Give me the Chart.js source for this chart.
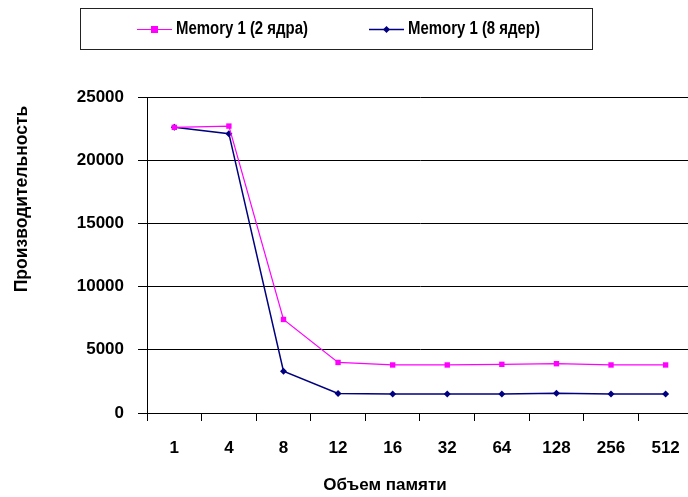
<!DOCTYPE html>
<html><head><meta charset="utf-8">
<script src="https://cdn.jsdelivr.net/npm/chart.js@4/dist/chart.umd.min.js"></script>
<style>html,body{margin:0;padding:0;overflow:hidden;background:#fff}#wrap{width:697px;height:497px}</style>
</head><body><div id="wrap"><canvas id="c" width="697" height="497"></canvas></div>
<script>
const categories = ['1','4','8','12','16','32','64','128','256','512'];
const series2 = [22600,22700,7400,4000,3800,3800,3850,3900,3800,3800];
const series8 = [22600,22100,3300,1550,1500,1500,1500,1560,1500,1500];
const seriesNames = ['Memory 1 (2 ядра)','Memory 1 (8 ядер)'];
const yTicks = [0,5000,10000,15000,20000,25000];
const xTitle = 'Объем памяти';
const yTitle = 'Производительность';

const FONT = '"Liberation Sans", Arial, sans-serif';

function squeezedText(ctx, text, x, y, sx) {
  ctx.save();
  ctx.translate(x, y);
  ctx.scale(sx, 1);
  ctx.fillText(text, 0, 0);
  ctx.restore();
}

const legendAndTitles = {
  id:'legendAndTitles',
  afterDraw(chart){
    const ctx = chart.ctx;
    ctx.save();
    // legend box
    ctx.strokeStyle = '#222'; ctx.lineWidth = 1;
    ctx.strokeRect(80.5, 8.5, 512, 41);
    const items = [{x:137, ds:0},{x:369, ds:1}];
    ctx.font = 'bold 18px ' + FONT;
    ctx.textBaseline = 'middle';
    items.forEach(it=>{
      const ds = chart.data.datasets[it.ds];
      const y = 29.5;
      ctx.strokeStyle = ds.borderColor; ctx.lineWidth = ds.borderWidth;
      ctx.beginPath(); ctx.moveTo(it.x, y); ctx.lineTo(it.x+35, y); ctx.stroke();
      ctx.fillStyle = ds.pointBackgroundColor;
      if (ds.pointStyle === 'rect') {
        ctx.fillRect(it.x+17.5-3.5, y-3.5, 7, 7);
      } else {
        ctx.beginPath(); ctx.moveTo(it.x+17.5, y-3.5); ctx.lineTo(it.x+21, y); ctx.lineTo(it.x+17.5, y+3.5); ctx.lineTo(it.x+14, y); ctx.closePath(); ctx.fill();
      }
      ctx.fillStyle = '#000';
      ctx.textAlign = 'left';
      squeezedText(ctx, ds.label, it.x+39, y, 0.83);
    });
    // axis titles
    ctx.fillStyle = '#000';
    ctx.textAlign = 'center';
    ctx.font = 'bold 17px ' + FONT;
    ctx.fillText(xTitle, 385, 485);
    ctx.font = 'bold 17.5px ' + FONT;
    ctx.translate(22, 199);
    ctx.rotate(-Math.PI/2);
    ctx.fillText(yTitle, 0, 0);
    ctx.restore();
  }
};

new Chart(document.getElementById('c'), {
  type:'line',
  data:{
    labels: categories,
    datasets:[
      {label: seriesNames[0], data: series2, borderColor:'#FF00FF', backgroundColor:'#FF00FF', pointBackgroundColor:'#FF00FF', pointBorderColor:'#FF00FF', borderWidth:1.2, pointStyle:'rect', pointRadius:3.8, pointBorderWidth:0, tension:0},
      {label: seriesNames[1], data: series8, borderColor:'#000080', backgroundColor:'#000080', pointBackgroundColor:'#000080', pointBorderColor:'#000080', borderWidth:1.5, pointStyle:'rectRot', pointRadius:3.5, pointBorderWidth:0, tension:0}
    ]
  },
  options:{
    responsive:false, animation:false, devicePixelRatio:1,
    layout:{padding:{top:97,left:0,right:0,bottom:0}},
    plugins:{legend:{display:false}, tooltip:{enabled:false}},
    scales:{
      x:{
        offset:true,
        grid:{offset:true, drawOnChartArea:false, color:'#000', tickLength:8, lineWidth:1},
        border:{display:true, color:'#000', width:1},
        ticks:{color:'#000', font:{family:FONT, size:17, weight:'bold'}, padding:17, maxRotation:0, autoSkip:false},
        afterFit(s){ s.height = 84; }
      },
      y:{
        min:0, max:25000,
        afterBuildTicks(s){ s.ticks = yTicks.map(v=>({value:v})); },
        grid:{color:'#000', tickLength:9, lineWidth:1},
        border:{display:true, color:'#000', width:1},
        ticks:{color:'#000', font:{family:FONT, size:17, weight:'bold'}, padding:14, callback:v=>String(v)},
        afterFit(s){ s.width = 147; }
      }
    }
  },
  plugins:[legendAndTitles]
});
</script></body></html>
